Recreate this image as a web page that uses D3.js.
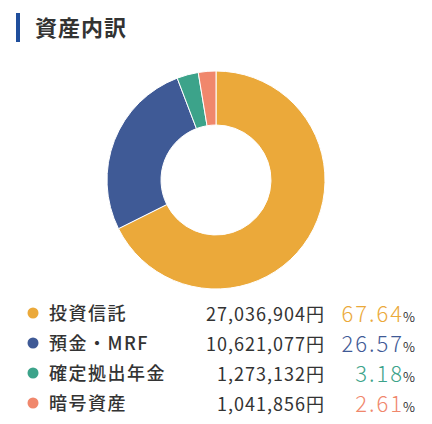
<!DOCTYPE html>
<html>
<head>
<meta charset="utf-8">
<script src="https://cdn.jsdelivr.net/npm/d3@7"></script>
<style>
  body { margin: 0; background: #fff; }
  svg { display: block; font-family: "Noto Sans CJK JP", "Noto Sans", sans-serif; }
</style>
</head>
<body>
<script>
// data
var categories = ["投資信託", "預金・MRF", "確定拠出年金", "暗号資産"];
var amounts = [27036904, 10621077, 1273132, 1041856];
var percents = [67.64, 26.57, 3.18, 2.61];
var colors = ["#EBA93A", "#3F5A96", "#3CA38A", "#F0876C"];

var width = 432, height = 424;

var svg = d3.select("body")
    .append("svg")
    .attr("width", width)
    .attr("height", height);

// title
svg.append("rect")
    .attr("x", 16)
    .attr("y", 13)
    .attr("width", 4)
    .attr("height", 29)
    .attr("fill", "#1F4E9C");

svg.append("text")
    .attr("x", 35)
    .attr("y", 36)
    .attr("font-size", 22)
    .attr("font-weight", 700)
    .attr("letter-spacing", 1)
    .attr("fill", "#333")
    .text("資産内訳");

// donut
const pie = d3.pie().sort(null).value(d => d);
const arc = d3.arc().innerRadius(55).outerRadius(109);

var g = svg.append("g")
    .attr("transform", "translate(216,180)");

g.selectAll("path")
    .data(pie(amounts))
    .enter()
    .append("path")
    .attr("d", arc)
    .attr("fill", (d, i) => colors[i])
    .attr("stroke", "#fff")
    .attr("stroke-width", 1);

// legend
var y = d3.scaleBand()
    .domain(categories)
    .range([298, 418]);

var fmt = d3.format(",");

var rows = svg.selectAll("g.row")
    .data(categories)
    .enter()
    .append("g")
    .attr("class", "row")
    .attr("transform", d => `translate(0,${y(d) + y.bandwidth() / 2})`);

rows.append("circle")
    .attr("cx", 33)
    .attr("cy", 0)
    .attr("r", 5.5)
    .attr("fill", (d, i) => colors[i]);

rows.append("text")
    .attr("x", 49)
    .attr("y", 7)
    .attr("font-size", 18)
    .attr("font-weight", 500)
    .attr("letter-spacing", 1.5)
    .attr("fill", "#333")
    .text(d => d);

rows.append("text")
    .attr("x", 325)
    .attr("y", 8)
    .attr("text-anchor", "end")
    .attr("font-size", 18)
    .attr("letter-spacing", 1)
    .attr("fill", "#333")
    .text((d, i) => fmt(amounts[i]) + "円");

// trailing letter-spacing is absorbed by shifting the anchor right
rows.append("text")
    .attr("x", 404)
    .attr("y", 9)
    .attr("text-anchor", "end")
    .attr("font-size", 22)
    .attr("font-weight", 300)
    .attr("letter-spacing", 2)
    .attr("fill", (d, i) => colors[i])
    .text((d, i) => percents[i].toFixed(2));

rows.append("text")
    .attr("x", 403)
    .attr("y", 9)
    .attr("font-size", 13)
    .attr("fill", "#333")
    .text("%");
</script>
</body>
</html>
